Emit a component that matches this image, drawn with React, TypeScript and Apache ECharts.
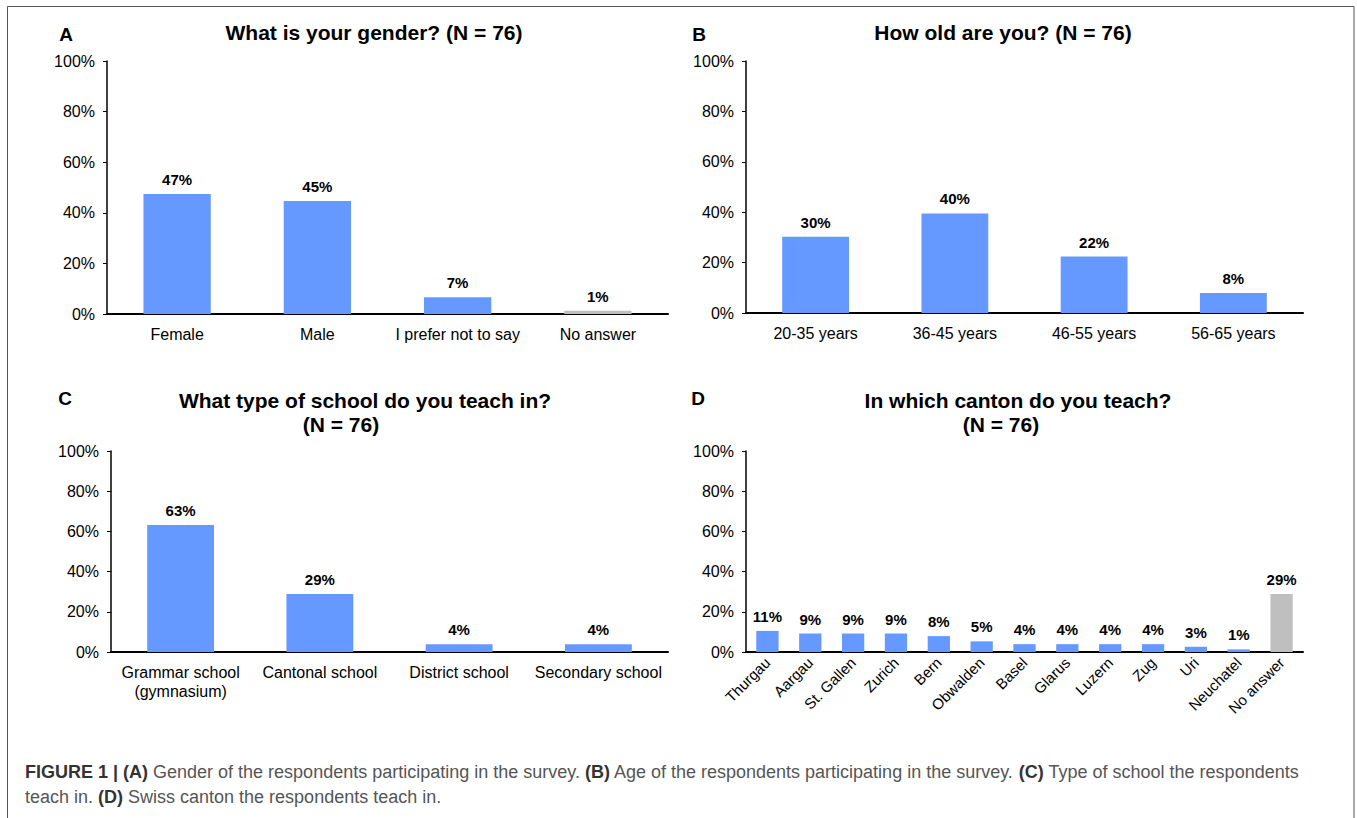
import React, { useEffect, useRef } from "react";
import * as echarts from "echarts";

const genderCats = ["Female", "Male", "I prefer not to say", "No answer"];
const genderVals = [47.4, 44.7, 6.6, 1.3];
const ageCats = ["20-35 years", "36-45 years", "46-55 years", "56-65 years"];
const ageVals = [30.3, 39.5, 22.4, 7.9];
const schoolCats = ["Grammar school\n(gymnasium)", "Cantonal school", "District school", "Secondary school"];
const schoolVals = [63.2, 28.9, 3.9, 3.9];
const cantonCats = ["Thurgau", "Aargau", "St. Gallen", "Zurich", "Bern", "Obwalden", "Basel", "Glarus", "Luzern", "Zug", "Uri", "Neuchatel", "No answer"];
const cantonVals = [10.5, 9.2, 9.2, 9.2, 7.9, 5.3, 3.9, 3.9, 3.9, 3.9, 2.6, 1.3, 28.9];
const yTicks = [0, 20, 40, 60, 80, 100];

const FONT = "'Liberation Sans', Arial, Helvetica, sans-serif";
const BLUE = "#6699FF";
const GRAY = "#BFBFBF";

export default function App() {
  const ref = useRef<HTMLDivElement>(null);
  useEffect(() => {
    const chart = echarts.init(ref.current!, null, { renderer: "svg" });
    const grids = [
      { left: 107, top: 61, width: 561, height: 253 },
      { left: 746, top: 61, width: 557, height: 252 },
      { left: 111, top: 451, width: 557, height: 201 },
      { left: 746, top: 451, width: 557, height: 201 },
    ];
    const cats = [genderCats, ageCats, schoolCats, cantonCats];
    const vals = [genderVals, ageVals, schoolVals, cantonVals];
    const xAxis = cats.map((c, i) => ({
      type: "category",
      gridIndex: i,
      data: c,
      axisTick: { show: false },
      axisLine: { lineStyle: { color: "#000", width: 2 } },
      axisLabel: {
        color: "#000",
        fontFamily: FONT,
        fontSize: i === 3 ? 15 : 16,
        margin: i === 3 ? 8 : 11,
        rotate: i === 3 ? 45 : 0,
        interval: 0,
        lineHeight: 19,
      },
    }));
    const yAxis = cats.map((_, i) => ({
      type: "value",
      gridIndex: i,
      min: yTicks[0],
      max: yTicks[yTicks.length - 1],
      interval: 20,
      splitLine: { show: false },
      axisLine: { show: true, lineStyle: { color: "#000", width: 1.5 } },
      axisTick: { show: true, length: 4, lineStyle: { color: "#000" } },
      axisLabel: { color: "#000", fontFamily: FONT, fontSize: 16, margin: 12, formatter: "{value}%" },
    }));
    const series = vals.map((v, i) => ({
      type: "bar",
      xAxisIndex: i,
      yAxisIndex: i,
      barWidth: i === 3 ? "52%" : "48%",
      data: v.map((val, j) => ({
        value: val,
        itemStyle: { color: cats[i][j] === "No answer" ? GRAY : BLUE },
      })),
      label: {
        show: true,
        position: "top",
        distance: 7,
        color: "#000",
        fontFamily: FONT,
        fontWeight: "bold",
        fontSize: 15,
        formatter: (p: any) => Math.round(p.value) + "%",
      },
    }));
    const t = (text: string, x: number, y: number, size: number, align = "center") => ({
      type: "text",
      x,
      y,
      style: { text, fontFamily: FONT, fontWeight: "bold", fontSize: size, fill: "#000", align, verticalAlign: "middle" },
    });
    const capRich = { b: { fontWeight: "bold", fill: "#333", fontFamily: FONT, fontSize: 18 } };
    chart.setOption({
      animation: false,
      backgroundColor: "#fff",
      grid: grids,
      xAxis,
      yAxis,
      series,
      graphic: [
        { type: "rect", shape: { x: 7.5, y: 6.5, width: 1346.5, height: 830 }, style: { fill: "none", stroke: "#555", lineWidth: 1 } },
        t("A", 66, 34, 19),
        t("What is your gender? (N = 76)", 374, 32, 21),
        t("B", 699, 34, 19),
        t("How old are you? (N = 76)", 1003, 32, 21),
        t("C", 65, 398, 19),
        t("What type of school do you teach in?", 365, 400, 21),
        t("(N = 76)", 341, 424, 21),
        t("D", 698, 398, 19),
        t("In which canton do you teach?", 1018, 400, 21),
        t("(N = 76)", 1001, 424, 21),
        {
          type: "text",
          x: 25,
          y: 772,
          style: {
            text: "{b|FIGURE 1 | (A)} Gender of the respondents participating in the survey. {b|(B)} Age of the respondents participating in the survey. {b|(C)} Type of school the respondents",
            fontFamily: FONT,
            fontSize: 18,
            fill: "#555",
            verticalAlign: "middle",
            rich: capRich,
          },
        },
        {
          type: "text",
          x: 25,
          y: 797,
          style: {
            text: "teach in. {b|(D)} Swiss canton the respondents teach in.",
            fontFamily: FONT,
            fontSize: 18,
            fill: "#555",
            verticalAlign: "middle",
            rich: capRich,
          },
        },
      ],
    });
    return () => chart.dispose();
  }, []);
  return <div ref={ref} style={{ position: "fixed", left: 0, top: 0, width: 1357, height: 818 }} />;
}
